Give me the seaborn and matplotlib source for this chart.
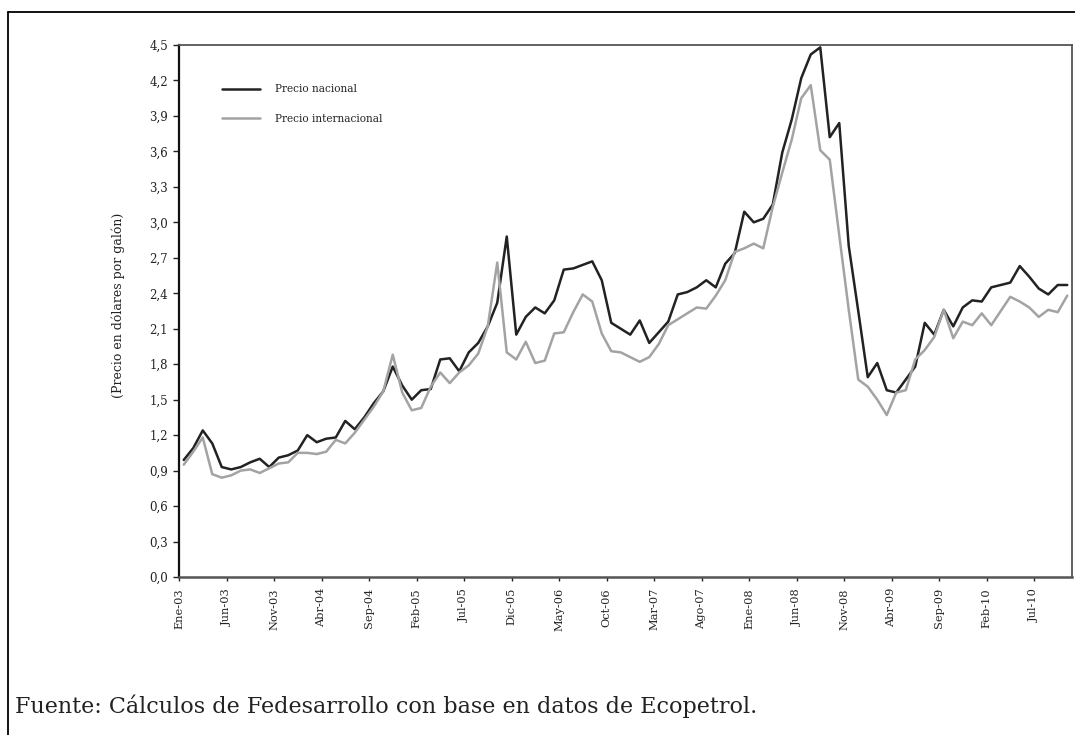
import numpy as np
import pandas as pd
import matplotlib
matplotlib.use("Agg")
import matplotlib.pyplot as plt
from matplotlib.lines import Line2D
import seaborn as sns

# === Datos (dólares por galón, mensual Ene-03 a Oct-10) ===
precio_nacional = [
    0.99, 1.09, 1.24, 1.13, 0.93, 0.91, 0.93, 0.97, 1.00, 0.93,
    1.01, 1.03, 1.07, 1.20, 1.14, 1.17, 1.18, 1.32, 1.25, 1.35,
    1.47, 1.57, 1.78, 1.62, 1.50, 1.58, 1.59, 1.84, 1.85, 1.74,
    1.90, 1.98, 2.12, 2.32, 2.88, 2.05, 2.20, 2.28, 2.23, 2.34,
    2.60, 2.61, 2.64, 2.67, 2.51, 2.15, 2.10, 2.05, 2.17, 1.98,
    2.07, 2.16, 2.39, 2.41, 2.45, 2.51, 2.45, 2.65, 2.74, 3.09,
    3.00, 3.03, 3.15, 3.59, 3.87, 4.22, 4.42, 4.48, 3.72, 3.84,
    2.80, 2.25, 1.69, 1.81, 1.58, 1.56, 1.67, 1.78, 2.15, 2.05,
    2.26, 2.12, 2.28, 2.34, 2.33, 2.45, 2.47, 2.49, 2.63, 2.54,
    2.44, 2.39, 2.47, 2.47,
]
precio_internacional = [
    0.95, 1.06, 1.18, 0.87, 0.84, 0.86, 0.90, 0.91, 0.88, 0.92,
    0.96, 0.97, 1.05, 1.05, 1.04, 1.06, 1.16, 1.13, 1.22, 1.33,
    1.44, 1.57, 1.88, 1.56, 1.41, 1.43, 1.61, 1.73, 1.64, 1.73,
    1.79, 1.89, 2.12, 2.66, 1.90, 1.84, 1.99, 1.81, 1.83, 2.06,
    2.07, 2.24, 2.39, 2.33, 2.06, 1.91, 1.90, 1.86, 1.82, 1.86,
    1.97, 2.13, 2.18, 2.23, 2.28, 2.27, 2.38, 2.51, 2.75, 2.78,
    2.82, 2.78, 3.13, 3.42, 3.70, 4.05, 4.16, 3.61, 3.53, 2.89,
    2.26, 1.67, 1.61, 1.50, 1.37, 1.56, 1.58, 1.84, 1.92, 2.03,
    2.26, 2.02, 2.16, 2.13, 2.23, 2.13, 2.25, 2.37, 2.33, 2.28,
    2.20, 2.26, 2.24, 2.38,
]
etiquetas_x = [
    "Ene-03", "Jun-03", "Nov-03", "Abr-04", "Sep-04", "Feb-05", "Jul-05",
    "Dic-05", "May-06", "Oct-06", "Mar-07", "Ago-07", "Ene-08", "Jun-08",
    "Nov-08", "Abr-09", "Sep-09", "Feb-10", "Jul-10",
]
ticks_y = [0.0, 0.3, 0.6, 0.9, 1.2, 1.5, 1.8, 2.1, 2.4, 2.7, 3.0, 3.3, 3.6, 3.9, 4.2, 4.5]

meses = np.arange(len(precio_nacional))
df = pd.concat([
    pd.DataFrame({"mes": meses, "precio": precio_nacional, "serie": "Precio nacional"}),
    pd.DataFrame({"mes": meses, "precio": precio_internacional, "serie": "Precio internacional"}),
], ignore_index=True)

# === Estilo ===
sns.set_theme(style="white")
plt.rcParams["font.family"] = ["DejaVu Serif"]

fig = plt.figure(figsize=(10.75, 7.35), dpi=100)
ax = fig.add_axes([179 / 1075, 1 - 577 / 735, (1072 - 179) / 1075, (577 - 45) / 735])

sns.lineplot(
    data=df, x="mes", y="precio", hue="serie",
    palette={"Precio nacional": "#222222", "Precio internacional": "#a3a3a3"},
    linewidth=1.8, ax=ax,
)

ax.set_xlim(-0.5, len(meses) - 0.5)
ax.set_ylim(0, 4.5)
ax.set_xticks(np.arange(len(etiquetas_x)) * 5 - 0.5)
ax.set_xticklabels(etiquetas_x, rotation=90, fontsize=8.2)
ax.set_yticks(ticks_y)
ax.set_yticklabels([f"{v:.1f}".replace(".", ",") for v in ticks_y], fontsize=8.5)
ax.tick_params(axis="y", direction="out", length=4, width=1, left=True, pad=4, colors="#222")
ax.tick_params(axis="x", direction="out", length=3, width=1, bottom=True, pad=5, colors="#222")

ax.set_xlabel("")
ax.set_ylabel("(Precio en dólares por galón)", fontsize=9, color="#222")
ax.yaxis.set_label_coords(-0.061, 0.51)

ax.spines["left"].set_color("#111")
ax.spines["left"].set_linewidth(1.6)
ax.spines["bottom"].set_color("#555")
ax.spines["bottom"].set_linewidth(1.8)
for s in ["top", "right"]:
    ax.spines[s].set_color("#555")
    ax.spines[s].set_linewidth(1.3)
ax.grid(False)

ax.legend(
    loc="upper left", bbox_to_anchor=(0.048, 0.926), frameon=False,
    fontsize=7.6, handlelength=3.6, handletextpad=1.4, labelspacing=1.85,
    borderpad=0, borderaxespad=0,
)

# === Marco exterior y fuente ===
fig.add_artist(Line2D([8 / 1075, 8 / 1075], [0, 1 - 12 / 735], color="black", linewidth=1.3))
fig.add_artist(Line2D([8 / 1075, 1], [1 - 12 / 735, 1 - 12 / 735], color="black", linewidth=1.3))
fig.text(15 / 1075, 1 - 706 / 735, "Fuente: Cálculos de Fedesarrollo con base en datos de Ecopetrol.",
         fontsize=16, va="center", ha="left", color="#222")

fig.savefig("out.png", dpi=100)
